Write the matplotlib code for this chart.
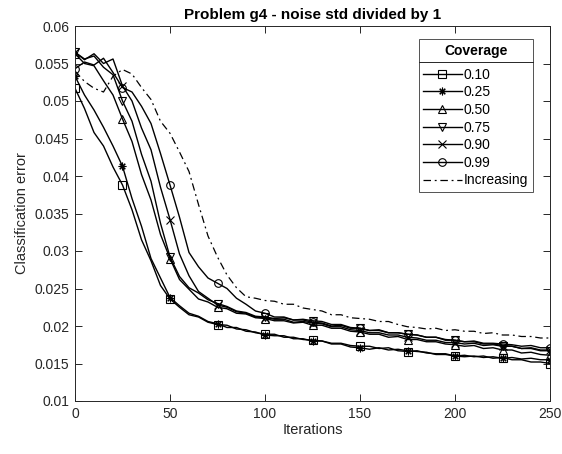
import numpy as np
import matplotlib
matplotlib.use("Agg")
import matplotlib.pyplot as plt
from matplotlib.lines import Line2D

plt.rcParams['font.family'] = ['Liberation Sans', 'DejaVu Sans']

iterations = list(range(0, 251, 5))

cov_010 = [0.0517, 0.0490, 0.0458, 0.0440, 0.0412, 0.0388, 0.0355, 0.0315, 0.0287, 0.0254,
           0.0236, 0.0225, 0.0215, 0.0212, 0.0205, 0.0202, 0.0201, 0.0196, 0.0195, 0.0191,
           0.0189, 0.0189, 0.0185, 0.0185, 0.0182, 0.0181, 0.0180, 0.0177, 0.0177, 0.0174,
           0.0173, 0.0173, 0.0170, 0.0171, 0.0167, 0.0166, 0.0167, 0.0164, 0.0163, 0.0163,
           0.0160, 0.0161, 0.0159, 0.0160, 0.0157, 0.0158, 0.0155, 0.0155, 0.0152, 0.0152,
           0.0150]
cov_025 = [0.0533, 0.0508, 0.0488, 0.0465, 0.0440, 0.0413, 0.0370, 0.0333, 0.0290, 0.0264,
           0.0238, 0.0227, 0.0217, 0.0213, 0.0206, 0.0203, 0.0198, 0.0198, 0.0193, 0.0192,
           0.0188, 0.0187, 0.0187, 0.0183, 0.0183, 0.0180, 0.0180, 0.0176, 0.0176, 0.0172,
           0.0171, 0.0169, 0.0171, 0.0168, 0.0169, 0.0167, 0.0166, 0.0165, 0.0162, 0.0162,
           0.0160, 0.0159, 0.0160, 0.0158, 0.0159, 0.0157, 0.0158, 0.0156, 0.0157, 0.0155,
           0.0155]
cov_050 = [0.0563, 0.0550, 0.0547, 0.0527, 0.0508, 0.0476, 0.0446, 0.0402, 0.0368, 0.0322,
           0.0290, 0.0262, 0.0249, 0.0236, 0.0232, 0.0225, 0.0223, 0.0217, 0.0216, 0.0211,
           0.0210, 0.0207, 0.0207, 0.0204, 0.0205, 0.0201, 0.0201, 0.0197, 0.0197, 0.0193,
           0.0192, 0.0189, 0.0189, 0.0185, 0.0186, 0.0182, 0.0182, 0.0179, 0.0179, 0.0176,
           0.0175, 0.0173, 0.0174, 0.0170, 0.0171, 0.0168, 0.0168, 0.0164, 0.0165, 0.0162,
           0.0161]
cov_075 = [0.0565, 0.0556, 0.0560, 0.0545, 0.0535, 0.0500, 0.0473, 0.0429, 0.0393, 0.0337,
           0.0292, 0.0266, 0.0251, 0.0244, 0.0235, 0.0230, 0.0226, 0.0220, 0.0218, 0.0213,
           0.0212, 0.0210, 0.0211, 0.0208, 0.0209, 0.0207, 0.0206, 0.0202, 0.0202, 0.0198,
           0.0197, 0.0194, 0.0194, 0.0191, 0.0191, 0.0189, 0.0188, 0.0185, 0.0185, 0.0181,
           0.0181, 0.0179, 0.0179, 0.0176, 0.0176, 0.0174, 0.0173, 0.0170, 0.0170, 0.0167,
           0.0167]
cov_090 = [0.0565, 0.0555, 0.0563, 0.0550, 0.0556, 0.0520, 0.0500, 0.0464, 0.0435, 0.0385,
           0.0342, 0.0296, 0.0267, 0.0246, 0.0237, 0.0228, 0.0225, 0.0219, 0.0217, 0.0212,
           0.0211, 0.0209, 0.0209, 0.0205, 0.0206, 0.0204, 0.0203, 0.0199, 0.0199, 0.0195,
           0.0194, 0.0191, 0.0191, 0.0188, 0.0188, 0.0185, 0.0184, 0.0181, 0.0181, 0.0178,
           0.0178, 0.0176, 0.0177, 0.0174, 0.0175, 0.0173, 0.0173, 0.0170, 0.0171, 0.0168,
           0.0168]
cov_099 = [0.0543, 0.0552, 0.0548, 0.0557, 0.0538, 0.0518, 0.0512, 0.0493, 0.0470, 0.0430,
           0.0388, 0.0345, 0.0298, 0.0279, 0.0264, 0.0257, 0.0250, 0.0237, 0.0229, 0.0220,
           0.0217, 0.0212, 0.0212, 0.0208, 0.0208, 0.0205, 0.0204, 0.0200, 0.0201, 0.0197,
           0.0197, 0.0194, 0.0195, 0.0191, 0.0191, 0.0189, 0.0188, 0.0185, 0.0185, 0.0182,
           0.0181, 0.0179, 0.0180, 0.0177, 0.0177, 0.0176, 0.0175, 0.0173, 0.0174, 0.0171,
           0.0171]
increasing = [0.0540, 0.0526, 0.0517, 0.0512, 0.0533, 0.0542, 0.0536, 0.0518, 0.0502, 0.0473,
              0.0457, 0.0432, 0.0406, 0.0362, 0.0320, 0.0292, 0.0268, 0.0251, 0.0239, 0.0237,
              0.0234, 0.0233, 0.0229, 0.0229, 0.0224, 0.0222, 0.0220, 0.0215, 0.0215, 0.0211,
              0.0210, 0.0209, 0.0206, 0.0206, 0.0202, 0.0199, 0.0198, 0.0196, 0.0197, 0.0194,
              0.0195, 0.0193, 0.0193, 0.0190, 0.0191, 0.0188, 0.0188, 0.0186, 0.0186, 0.0184,
              0.0184]

labels = ['0.10', '0.25', '0.50', '0.75', '0.90', '0.99', 'Increasing']
x_ticks = [0, 50, 100, 150, 200, 250]
y_ticks = [0.01, 0.015, 0.02, 0.025, 0.03, 0.035, 0.04, 0.045, 0.05, 0.055, 0.06]

series = [cov_010, cov_025, cov_050, cov_075, cov_090, cov_099]
markers = ['s', (8, 2, 0), '^', 'v', 'x', 'o']

fig = plt.figure(figsize=(5.62, 4.54), dpi=100)
ax = fig.add_axes([75/562, 1-401/454, 475/562, 375/454])

for vals, mk, lab in zip(series, markers, labels[:6]):
    ax.plot(iterations, vals, color='black', lw=1.0, marker=mk, markevery=5,
            markersize=5.5, markerfacecolor='none', markeredgecolor='black',
            markeredgewidth=0.8, label=lab)
ax.plot(iterations, increasing, color='black', lw=0.9, linestyle=(0, (6, 3, 1.5, 3)),
        label=labels[6])

ax.set_xlim(0, 250)
ax.set_ylim(0.01, 0.06)
ax.set_xticks(x_ticks)
ax.set_yticks(y_ticks)
ax.set_yticklabels([f'{t:g}' for t in y_ticks])
axcol = '#262626'
ax.tick_params(direction='in', length=5, width=0.7, top=True, right=True,
               labelsize=10, colors=axcol, pad=4)
for sp in ax.spines.values():
    sp.set_color(axcol)
    sp.set_linewidth(0.7)
ax.set_xlabel('Iterations', fontsize=10.5, color=axcol, labelpad=2)
ax.set_ylabel('Classification error', fontsize=10.5, color=axcol, labelpad=4)
ax.set_title('Problem g4 - noise std divided by 1', fontsize=11, fontweight='bold',
             color='black', pad=5)

leg = ax.legend(loc='upper right', bbox_to_anchor=(0.964, 0.965), borderaxespad=0,
                fontsize=10, title='Coverage', title_fontproperties={'weight': 'bold', 'size': 10},
                fancybox=False, frameon=True, edgecolor='#262626', handlelength=2.75,
                handletextpad=0.15, labelspacing=0.26, borderpad=0.35)
leg.get_frame().set_linewidth(0.7)
try:
    leg._legend_box.sep = 7
except Exception:
    pass

fig.canvas.draw()
renderer = fig.canvas.get_renderer()
fb = leg.get_frame().get_window_extent(renderer)
tb = leg.get_title().get_window_extent(renderer)
ysep = tb.y0 - 4
inv = fig.transFigure.inverted()
(x0f, yf) = inv.transform((fb.x0, ysep))
(x1f, _) = inv.transform((fb.x1, ysep))
fig.add_artist(Line2D([x0f, x1f], [yf, yf], transform=fig.transFigure,
                      color='#262626', lw=0.7))

fig.savefig('out.png', dpi=100)
